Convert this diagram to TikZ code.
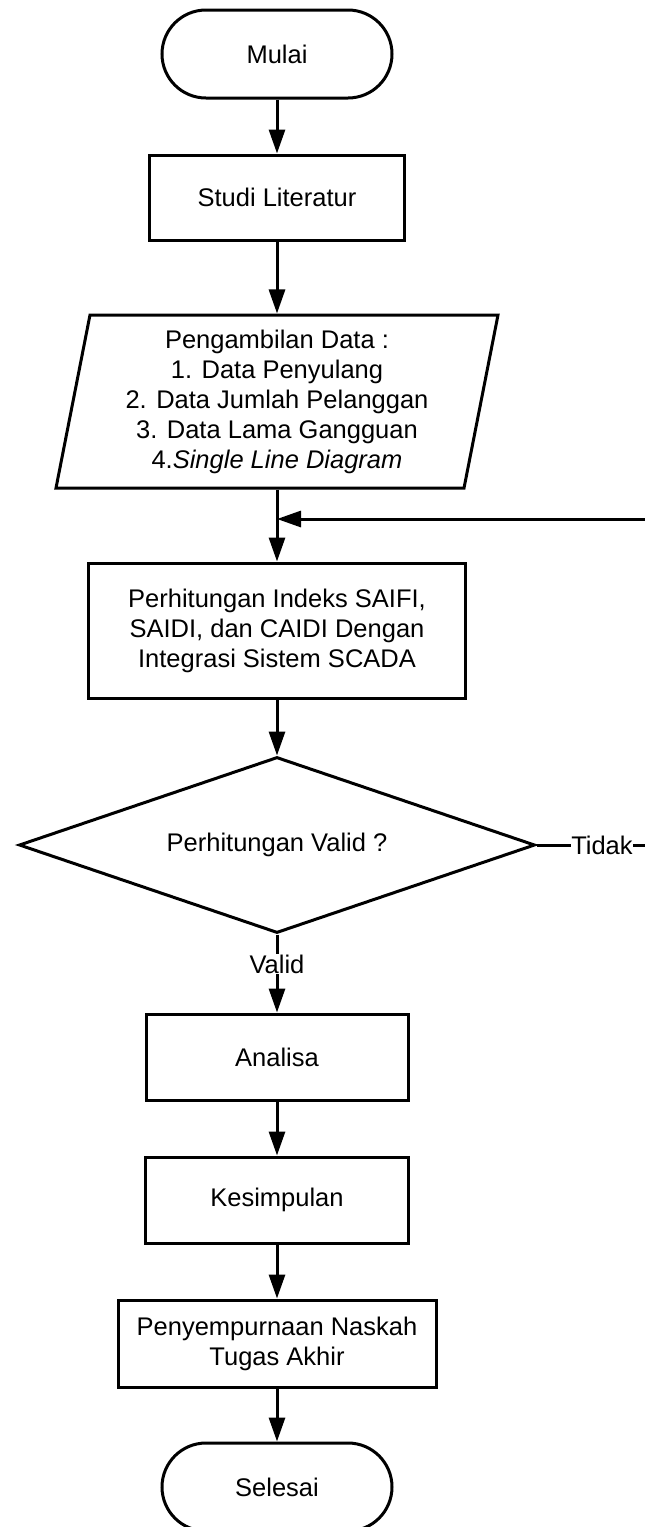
\documentclass[tikz,border=0pt]{standalone}
\usepackage{fontspec}
\setmainfont{Liberation Sans}
\usetikzlibrary{shapes.geometric,arrows.meta}
\begin{document}
\begin{tikzpicture}[x=1pt,y=-1pt,
  every node/.style={font=\fontsize{25.5}{30}\selectfont, align=center},
  box/.style={draw, line width=3pt, rectangle, inner sep=0pt},
  term/.style={draw, line width=3pt, rectangle, rounded corners=44pt, minimum width=230pt, minimum height=88pt, inner sep=0pt},
  datashape/.style={draw, line width=3pt, trapezium, trapezium left angle=76.7, trapezium right angle=103.3, trapezium stretches body, minimum width=442pt, minimum height=173pt, inner sep=0pt},
  decision/.style={draw, line width=3pt, diamond, aspect=2.93, minimum width=516pt, minimum height=176pt, inner sep=0pt},
  arr/.style={line width=3pt, -{Triangle[length=24pt,width=16pt]}},
  lbl/.style={fill=white, inner sep=0.5pt}]
\useasboundingbox (0,0) rectangle (645,1527);
\clip (0,0) rectangle (645,1527);

\node[term] (mulai) at (277,54) {Mulai};
\node[box, minimum width=255pt, minimum height=85pt] (studi) at (277,197.5) {Studi Literatur};
\node[datashape] (data) at (277,401.5) {Pengambilan Data :\\1. Data Penyulang\\2. Data Jumlah Pelanggan\\3. Data Lama Gangguan\\4.\textit{Single Line Diagram}};
\node[box, minimum width=377pt, minimum height=135pt] (hitung) at (277,630.5) {Perhitungan Indeks SAIFI,\\SAIDI, dan CAIDI Dengan\\Integrasi Sistem SCADA};
\node[decision] (valid) at (277,845) {Perhitungan Valid ?};
\node[box, minimum width=262pt, minimum height=86pt] (analisa) at (277,1057) {Analisa};
\node[box, minimum width=263pt, minimum height=86pt] (kesimpulan) at (277,1200) {Kesimpulan};
\node[box, minimum width=318pt, minimum height=87pt] (naskah) at (277,1343.5) {Penyempurnaan Naskah\\Tugas Akhir};
\node[term] (selesai) at (277,1487) {Selesai};

\coordinate (join) at (277,519);
\coordinate (fr) at (660,845);
\coordinate (fu) at (660,519);

\draw[arr] (mulai) -- (studi);
\draw[arr] (studi) -- (data);
\draw[arr] (data) -- (hitung);
\draw[arr] (hitung) -- (valid);
\draw[arr] (valid) -- node[lbl, pos=0.38] {Valid} (analisa);
\draw[arr] (analisa) -- (kesimpulan);
\draw[arr] (kesimpulan) -- (naskah);
\draw[arr] (naskah) -- (selesai);
\draw[arr] (valid.east) -- node[lbl, pos=0.53] {Tidak} (fr) -- (fu) -- (join);
\end{tikzpicture}
\end{document}
